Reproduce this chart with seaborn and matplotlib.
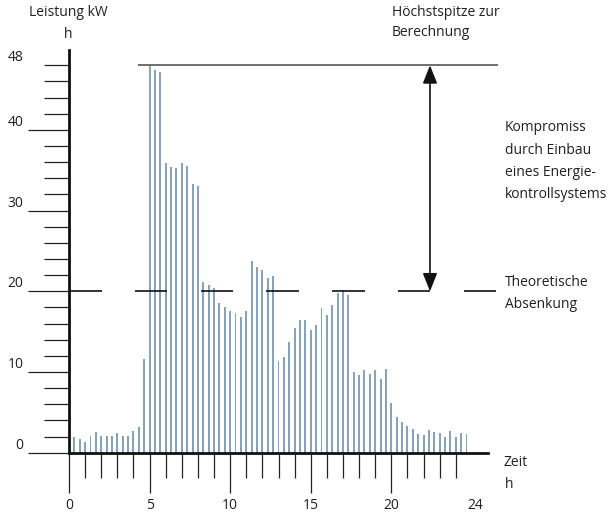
import matplotlib
matplotlib.use("Agg")
import matplotlib.pyplot as plt
import seaborn as sns
import numpy as np
import pandas as pd
from matplotlib.ticker import FixedLocator

# load profile, one value every 20 minutes (k/3 h)
hours = [k / 3 for k in range(1, 75)]
leistung = [2.0, 1.7, 1.3, 2.1, 2.6, 2.1, 2.1, 2.1, 2.45, 2.1, 2.1, 2.7, 3.2, 11.6,
            47.9, 47.4, 47.2, 35.9, 35.4, 35.3, 35.9, 35.5, 33.3, 33.0,
            21.1, 20.8, 20.4, 18.5, 18.1, 17.6, 17.3, 16.8, 17.6,
            23.75, 23.0, 22.6, 21.7, 21.9, 11.4, 11.8, 13.7, 15.4, 16.4, 16.4, 15.2, 15.8,
            17.9, 17.1, 18.3, 19.8, 20.1, 19.6,
            10.0, 9.6, 10.2, 9.75, 10.3, 9.1, 10.4,
            6.15, 4.4, 3.85, 3.27, 2.94, 2.36, 2.15, 2.77, 2.6, 2.4, 1.95, 2.69, 1.95, 2.48, 2.28]

y_major = [0, 10, 20, 30, 40, 48]
x_major = [0, 5, 10, 15, 20, 25.2]
x_labels = ["0", "5", "10", "15", "20", "24"]

spitze = 48
absenkung = 20

df = pd.DataFrame({"zeit": hours, "leistung": leistung})

sns.set_style("white")
plt.rcParams["font.family"] = ["Open Sans", "DejaVu Sans"]
txt = "#231f20"

fig = plt.figure(figsize=(6.14, 5.15), dpi=100)
ax = fig.add_axes([69 / 614, (515 - 452.7) / 515, 419 / 614, 402.7 / 515])

sns.barplot(data=df, x="zeit", y="leistung", native_scale=True, width=0.36,
            color="#86a2bd", saturation=1, linewidth=0, ax=ax)

ax.set_xlim(0, 26.0)
ax.set_ylim(0, 49.9)
ax.set_xlabel("")
ax.set_ylabel("")

for s in ["top", "right"]:
    ax.spines[s].set_visible(False)
for s in ["left", "bottom"]:
    ax.spines[s].set_linewidth(2.0)
    ax.spines[s].set_color("#111111")

# y ticks
ax.yaxis.set_major_locator(FixedLocator(y_major))
ax.yaxis.set_minor_locator(FixedLocator(list(range(2, 48, 2))))
ax.set_yticklabels([str(v) for v in y_major])
ax.tick_params(axis="y", which="major", direction="out", length=29.5, width=0.9,
               color="#222222", pad=3.2, labelsize=10, labelcolor=txt, left=True)
ax.tick_params(axis="y", which="minor", direction="out", length=18, width=0.9,
               color="#222222", left=True)
for lab in ax.get_yticklabels():
    lab.set_va("bottom")
ax.yaxis.get_major_ticks()[-1].tick1line.set_markersize(18)

# x ticks
ax.xaxis.set_major_locator(FixedLocator(x_major))
ax.xaxis.set_minor_locator(FixedLocator(list(range(1, 25))))
ax.set_xticklabels(x_labels)
ax.tick_params(axis="x", which="major", direction="out", length=29, width=0.9,
               color="#222222", pad=3.5, labelsize=10, labelcolor=txt, bottom=True)
ax.tick_params(axis="x", which="minor", direction="out", length=17.7, width=0.9,
               color="#222222", bottom=True)
ax.xaxis.get_major_ticks()[-1].tick1line.set_markersize(0)

# peak line and dashed reduction line
ax.hlines(spitze, 4.29, 26.6, color="#555555", lw=1.2, clip_on=False, zorder=3)
starts = np.arange(0, 26.6, 4.08)
ax.hlines([absenkung] * len(starts), starts, starts + 2.02, color="#111111", lw=1.2,
          clip_on=False, zorder=3)

ax.annotate("", xy=(22.4, spitze), xytext=(22.4, absenkung),
            arrowprops=dict(arrowstyle="<|-|>,head_length=0.55,head_width=0.22",
                            color="#111111", lw=1.2, mutation_scale=20,
                            shrinkA=0, shrinkB=0), annotation_clip=False)

def ftext(x, y, s, **kw):
    fig.text(x / 614, 1 - y / 515, s, color=txt, fontsize=10, va="center", **kw)

ftext(68.5, 13, "Leistung kW", ha="center")
ftext(68.5, 35, "h", ha="center")
ftext(392, 12, "Höchstspitze zur", ha="left")
ftext(392, 33, "Berechnung", ha="left")
for i, s in enumerate(["Kompromiss", "durch Einbau", "eines Energie-", "kontrollsystems"]):
    ftext(505, 128 + i * 22, s, ha="left")
ftext(505, 283, "Theoretische", ha="left")
ftext(505, 305, "Absenkung", ha="left")
ftext(503, 462, "Zeit", ha="left")
ftext(505, 484, "h", ha="left")

fig.savefig("out.png", dpi=100)
